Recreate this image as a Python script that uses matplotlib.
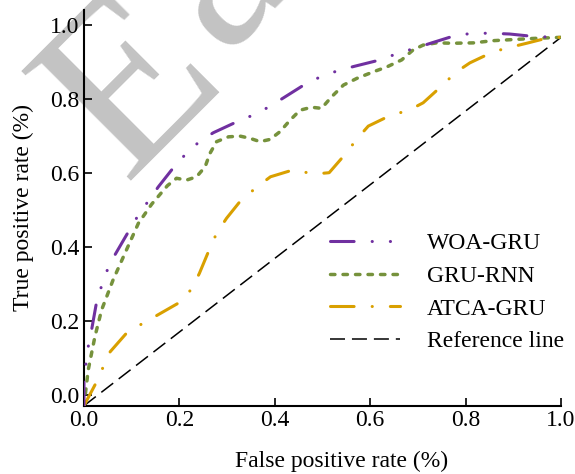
import matplotlib
matplotlib.use('Agg')
import matplotlib.pyplot as plt

plt.rcParams['font.family'] = 'Liberation Serif'
plt.rcParams['font.size'] = 17
plt.rcParams['lines.scale_dashes'] = False

# ROC curves
fpr_woa = [0, 0, 0.004, 0.009, 0.016, 0.026, 0.036, 0.049, 0.065, 0.093,
           0.112, 0.133, 0.156, 0.189, 0.213, 0.241, 0.271, 0.321, 0.355, 0.388,
           0.419, 0.467, 0.499, 0.535, 0.568, 0.624, 0.658, 0.693, 0.729, 0.781,
           0.818, 0.855, 0.892, 0.945, 1.0]
tpr_woa = [-0.03, 0.035, 0.083, 0.13, 0.175, 0.247, 0.29, 0.337, 0.378, 0.44,
           0.481, 0.52, 0.562, 0.616, 0.65, 0.683, 0.708, 0.738, 0.756, 0.778,
           0.803, 0.842, 0.861, 0.877, 0.888, 0.906, 0.923, 0.936, 0.951, 0.972,
           0.977, 0.977, 0.975, 0.968, 0.966]

fpr_gru = [0, 0.009, 0.023, 0.037, 0.061, 0.089, 0.114, 0.142, 0.175, 0.194,
           0.215, 0.236, 0.254, 0.264, 0.278, 0.303, 0.327, 0.348, 0.369, 0.39,
           0.411, 0.432, 0.453, 0.477, 0.498, 0.519, 0.544, 0.572, 0.607, 0.635,
           0.666, 0.69, 0.711, 0.739, 0.774, 0.816, 0.858, 0.9, 0.942, 1.0]
tpr_gru = [-0.03, 0.067, 0.157, 0.229, 0.31, 0.391, 0.463, 0.515, 0.565, 0.585,
           0.58, 0.589, 0.616, 0.652, 0.684, 0.697, 0.699, 0.693, 0.684, 0.69,
           0.711, 0.742, 0.769, 0.777, 0.774, 0.805, 0.837, 0.855, 0.873, 0.886,
           0.905, 0.932, 0.945, 0.951, 0.95, 0.951, 0.957, 0.96, 0.963, 0.966]

fpr_atca = [0, 0.023, 0.039, 0.055, 0.089, 0.121, 0.154, 0.2, 0.226, 0.242,
            0.263, 0.278, 0.299, 0.327, 0.362, 0.391, 0.442, 0.479, 0.514, 0.549,
            0.572, 0.596, 0.644, 0.68, 0.711, 0.752, 0.779, 0.809, 0.858, 0.893,
            0.928, 0.977, 1.0]
tpr_atca = [-0.03, 0.026, 0.071, 0.116, 0.166, 0.191, 0.215, 0.249, 0.286, 0.328,
            0.393, 0.436, 0.477, 0.522, 0.561, 0.589, 0.609, 0.596, 0.6, 0.652,
            0.691, 0.726, 0.756, 0.768, 0.789, 0.837, 0.871, 0.897, 0.927, 0.939,
            0.95, 0.966, 0.966]

ref_x = [0, 1.0]
ref_y = [-0.03, 0.966]

ticks = [0.0, 0.2, 0.4, 0.6, 0.8, 1.0]

W, H = 575, 474
fig = plt.figure(figsize=(W / 100, H / 100), dpi=100)
ax = fig.add_axes([0.146, 0.144, 0.8297, 0.835])
ax.patch.set_alpha(0)

# watermark behind everything (two letters placed separately)
wm = dict(fontsize=171, color='#c3c3c3', rotation=45, rotation_mode='anchor',
          ha='left', va='baseline', zorder=-1)
fig.text(124 / W, 1 - 181 / H, 'E', **wm)
fig.text(222 / W, 1 - 54 / H, 'a', **wm)

ax.plot(fpr_woa, tpr_woa, color='#7030a0', lw=2.2, dashes=(17, 13, 0.1, 13, 0.1, 13),
        dash_capstyle='round', label='WOA-GRU', zorder=4)
ax.plot(fpr_gru, tpr_gru, color='#76923c', lw=2.5, dashes=(3.2, 5.8),
        dash_capstyle='round', label='GRU-RNN', zorder=3)
ax.plot(fpr_atca, tpr_atca, color='#d9a000', lw=2.2, dashes=(17, 13, 0.1, 13),
        dash_capstyle='round', label='ATCA-GRU', zorder=3)
ax.plot(ref_x, ref_y, color='black', lw=1.1, dashes=(10.8, 5),
        label='Reference line', zorder=2)

ax.set_xlim(0, 1.0)
ax.set_ylim(-0.03, 1.04)
ax.set_xticks(ticks)
ax.set_yticks(ticks)
ax.set_xticklabels(['%.1f' % t for t in ticks])
ax.set_yticklabels(['%.1f' % t for t in ticks])
ax.tick_params(direction='in', length=6, width=1.2, pad=3, labelsize=17)
for s in ['top', 'right']:
    ax.spines[s].set_visible(False)
for s in ['left', 'bottom']:
    ax.spines[s].set_linewidth(1.5)

ax.set_xlabel('False positive rate (%)', fontsize=17)
ax.xaxis.set_label_coords(0.539, -0.113)
ax.set_ylabel('True positive rate (%)', fontsize=17, labelpad=12)

ax.legend(loc='upper left', bbox_to_anchor=(0.516, 0.437), frameon=False,
          fontsize=17, handlelength=2.97, handletextpad=1.14, labelspacing=0.47,
          borderpad=0, borderaxespad=0)

fig.savefig('out.png', dpi=100)
